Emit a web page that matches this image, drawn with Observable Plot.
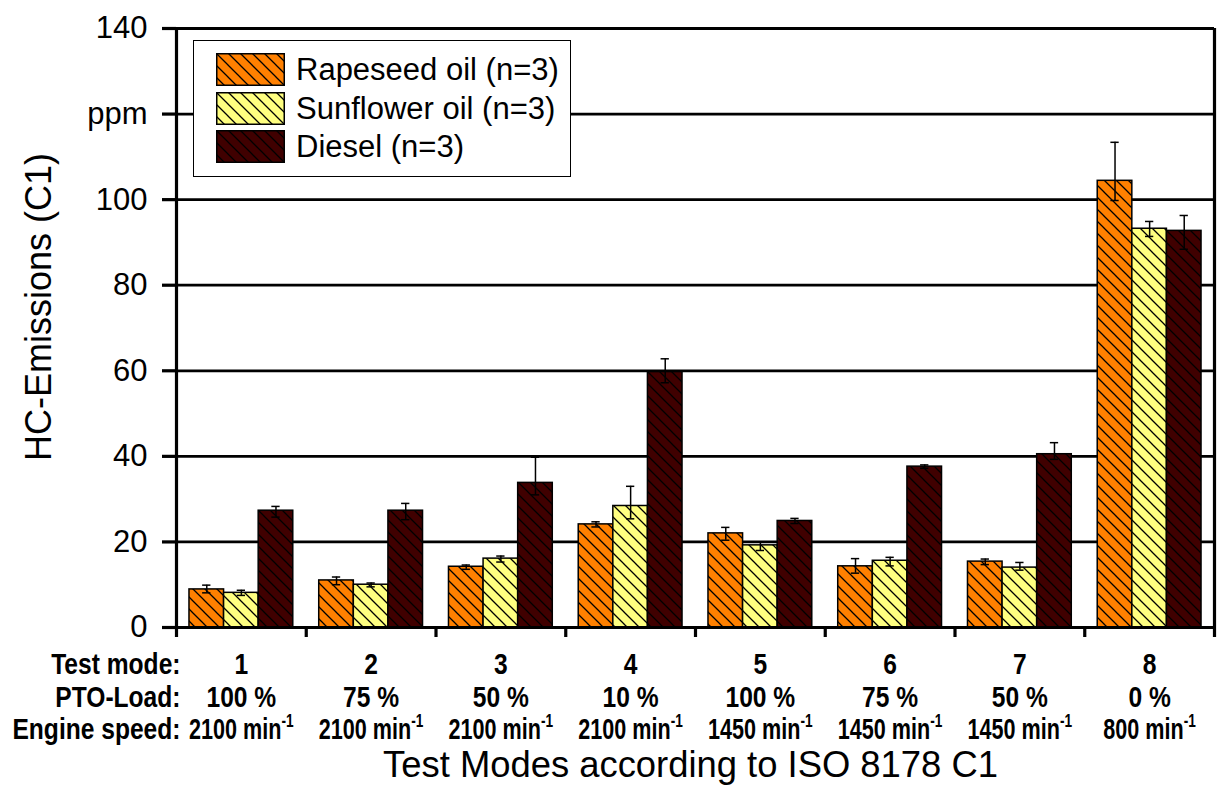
<!DOCTYPE html>
<html>
<head>
<meta charset="utf-8">
<script src="https://cdn.jsdelivr.net/npm/d3@7"></script>
<script src="https://cdn.jsdelivr.net/npm/@observablehq/plot@0.6"></script>
<style>
  body { margin: 0; background: #fff; }
  #wrap { position: relative; width: 1224px; height: 793px; font-family: "Liberation Sans", Arial, sans-serif; }
  #wrap svg { display: block; }
  .legend-box { position: absolute; left: 193px; top: 40px; width: 378px; height: 137px;
    border: 1.5px solid #000; background: #fff; box-sizing: border-box; }
  .legend-swatch { position: absolute; left: 216px; width: 69px; height: 33px; }
  .legend-label { position: absolute; left: 296px; height: 33px; line-height: 33px; font-size: 31px; color: #000; white-space: nowrap; }
</style>
</head>
<body>
<div id="wrap"></div>
<script>
// Test modes of the ISO 8178 C1 cycle
const modes = [1, 2, 3, 4, 5, 6, 7, 8];
const ptoLoad = ["100 %", "75 %", "50 %", "10 %", "100 %", "75 %", "50 %", "0 %"];
const engineSpeed = [2100, 2100, 2100, 2100, 1450, 1450, 1450, 800];

// Fuels (legend order)
const fuels = ["Rapeseed oil (n=3)", "Sunflower oil (n=3)", "Diesel (n=3)"];
const fuelColors = ["#FF8000", "#FFFF80", "#400000"];

// Mean HC emissions, ppm (C1)
const rapeseed = [8.9, 11.0, 14.2, 24.1, 22.0, 14.3, 15.4, 104.4];
const sunflower = [8.1, 10.0, 16.1, 28.4, 19.2, 15.6, 14.0, 93.2];
const diesel = [27.3, 27.3, 33.8, 59.7, 24.9, 37.6, 40.5, 92.7];

// Error bar extents above / below the mean, ppm
const rapeseedErrUp = [1.0, 0.8, 0.4, 0.6, 1.4, 1.8, 0.6, 9.0];
const rapeseedErrDown = [0.8, 1.0, 0.6, 0.6, 1.6, 1.6, 0.7, 4.6];
const sunflowerErrUp = [0.6, 0.4, 0.6, 4.6, 0.8, 0.8, 1.2, 1.7];
const sunflowerErrDown = [0.6, 0.5, 0.8, 3.0, 1.2, 1.2, 0.6, 1.8];
const dieselErrUp = [1.0, 1.7, 6.0, 3.1, 0.6, 0.4, 2.7, 3.6];
const dieselErrDown = [1.5, 2.1, 2.8, 2.5, 0.6, 0.4, 1.2, 4.3];

// Y axis ticks; the 120 position carries the unit instead of a number
const yTicks = [0, 20, 40, 60, 80, 100, 120, 140];
const yTickText = ["0", "20", "40", "60", "80", "100", "ppm", "140"];

const rowHeaders = ["Test mode:", "PTO-Load:", "Engine speed:"];
const yTitle = "HC-Emissions (C1)";
const xTitle = "Test Modes according to ISO 8178 C1";

// Tidy table built from the arrays above
const means = [rapeseed, sunflower, diesel];
const ups = [rapeseedErrUp, sunflowerErrUp, dieselErrUp];
const downs = [rapeseedErrDown, sunflowerErrDown, dieselErrDown];
const rows = [];
fuels.forEach((fuel, s) => {
  modes.forEach((mode, j) => {
    rows.push({mode, fuel, s, value: means[s][j], lo: means[s][j] - downs[s][j], hi: means[s][j] + ups[s][j]});
  });
});

// Grouped layout on a continuous x: each test mode occupies one unit
const groupSpan = 0.8;
const barW = groupSpan / fuels.length;
const bx1 = d => d.mode - groupSpan / 2 + d.s * barW;
const bx2 = d => bx1(d) + barW;
const bcx = d => bx1(d) + barW / 2;
const cap = 0.032;
const boundaries = d3.range(0.5, modes.length + 1, 1);

const patternIds = fuels.map((f, i) => `hatch-${i}`);

// Bold category labels below the axis; each row has its own vertical offset
const rowDy = [36.4, 70, 101.4];
const rowText = [d => String(d), (d, i) => ptoLoad[i], (d, i) => `${engineSpeed[i]} min`];
const boldStyle = {fontSize: 30, fontWeight: "bold", frameAnchor: "bottom", lineAnchor: "middle"};

const chart = Plot.plot({
  width: 1224,
  height: 793,
  marginLeft: 176,
  marginRight: 10,
  marginTop: 28,
  marginBottom: 166,
  x: {domain: [0.5, modes.length + 0.5]},
  y: {domain: [0, 140], label: null},
  color: {domain: fuels, range: patternIds.map(id => `url(#${id})`)},
  style: {fontFamily: "'Liberation Sans', Arial, sans-serif", background: "#fff", color: "#000", overflow: "visible"},
  marks: [
    // horizontal grid
    Plot.ruleY(yTicks.filter(t => t > 0), {stroke: "#000", strokeWidth: 2.8}),
    // bars
    Plot.rectY(rows, {x1: bx1, x2: bx2, y1: 0, y2: "value", fill: "fuel", stroke: "#000", strokeWidth: 1.5}),
    // error bars
    Plot.ruleX(rows, {x: bcx, y1: "lo", y2: "hi", stroke: "#000", strokeWidth: 1.5}),
    Plot.ruleY(rows, {y: "lo", x1: d => bcx(d) - cap, x2: d => bcx(d) + cap, stroke: "#000", strokeWidth: 1.5}),
    Plot.ruleY(rows, {y: "hi", x1: d => bcx(d) - cap, x2: d => bcx(d) + cap, stroke: "#000", strokeWidth: 1.5}),
    // frame lines
    Plot.ruleY([0], {stroke: "#000", strokeWidth: 3.2}),
    Plot.ruleX([0.5, modes.length + 0.5], {stroke: "#000", strokeWidth: 3.2}),
    // group separators below the baseline
    Plot.axisX({ticks: boundaries, tickSize: 10, tickFormat: () => "", strokeWidth: 3.2, label: null}),
    // y axis
    Plot.axisY({ticks: yTicks, tickSize: 14, tickPadding: 15, fontSize: 31, strokeWidth: 3.2, label: null,
      tickFormat: t => yTickText[yTicks.indexOf(t)]}),
    // category rows
    ...rowText.map((txt, r) => Plot.text(modes, {x: d => d, text: txt, dy: rowDy[r], ...boldStyle})),
    // row headers
    ...rowHeaders.map((h, r) => Plot.text([h], {text: d => d, ...boldStyle, frameAnchor: "bottom-left",
      textAnchor: "end", dx: 4, dy: rowDy[r]})),
    // titles
    Plot.text([yTitle], {text: d => d, frameAnchor: "left", textAnchor: "middle", lineAnchor: "middle",
      rotate: -90, dx: -137.5, dy: -21, fontSize: 36}),
    Plot.text([xTitle], {text: d => d, frameAnchor: "bottom", textAnchor: "middle", lineAnchor: "middle",
      dx: -5, dy: 137.5, fontSize: 36.4})
  ]
});

// Hatched fills for the bars
const defs = d3.select(chart).insert("defs", ":first-child");
fuelColors.forEach((c, i) => {
  const p = defs.append("pattern").attr("id", patternIds[i])
    .attr("patternUnits", "userSpaceOnUse").attr("width", 12).attr("height", 12);
  p.append("rect").attr("width", 12).attr("height", 12).attr("fill", c);
  p.append("path").attr("d", "M-2,-2L14,14M-2,10L2,14M10,-2L14,2")
    .attr("stroke", "#000").attr("stroke-width", 1.3);
});

// "min" with superscript -1
const speedTexts = d3.select(chart).selectAll("text").filter(function () { return /\d min$/.test(this.textContent); });
speedTexts.each(function () {
  d3.select(this).append("tspan").attr("dy", "-0.62em").attr("font-size", "19px").text("-1");
});

// Condensed look for the bold labels (the engine-speed row is set tighter)
d3.select(chart).selectAll('g[font-weight="bold"] text').each(function () {
  const t = this.getAttribute("transform") || "";
  const sx = /min/.test(this.textContent) ? 0.72 : 0.82;
  this.setAttribute("transform", `${t} scale(${sx},1)`);
});

const wrap = document.getElementById("wrap");
wrap.appendChild(chart);

// Legend
const box = document.createElement("div");
box.className = "legend-box";
wrap.appendChild(box);
const rowTops = [53, 91.5, 130];
fuels.forEach((f, i) => {
  const sw = document.createElementNS("http://www.w3.org/2000/svg", "svg");
  sw.setAttribute("class", "legend-swatch");
  sw.style.top = rowTops[i] + "px";
  sw.setAttribute("width", 69); sw.setAttribute("height", 33);
  const r = document.createElementNS("http://www.w3.org/2000/svg", "rect");
  r.setAttribute("x", 0.75); r.setAttribute("y", 0.75); r.setAttribute("width", 67.5); r.setAttribute("height", 31.5);
  r.setAttribute("fill", `url(#${patternIds[i]})`); r.setAttribute("stroke", "#000"); r.setAttribute("stroke-width", 1.5);
  sw.appendChild(r);
  wrap.appendChild(sw);
  const lab = document.createElement("div");
  lab.className = "legend-label";
  lab.style.top = rowTops[i] + "px";
  lab.textContent = f;
  wrap.appendChild(lab);
});
</script>
</body>
</html>
